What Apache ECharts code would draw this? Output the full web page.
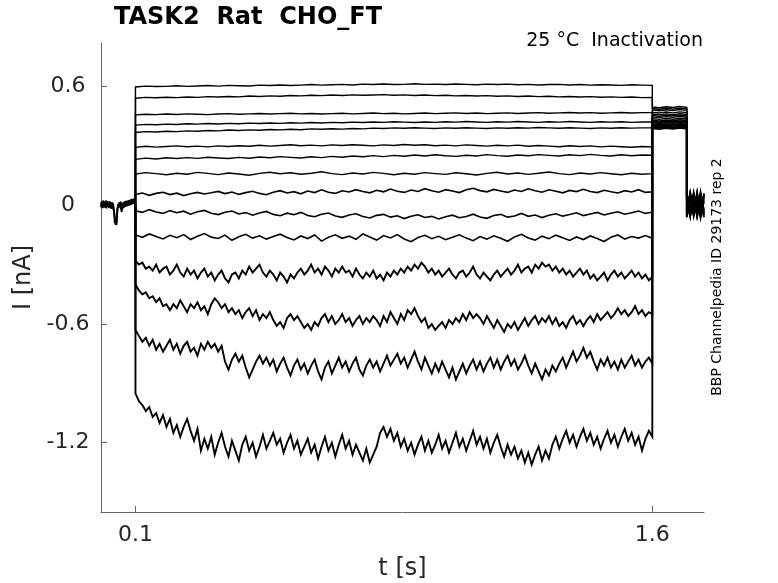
<!DOCTYPE html>
<html>
<head>
<meta charset="utf-8">
<script src="https://cdn.jsdelivr.net/npm/echarts@6/dist/echarts.min.js"></script>
<style>
  html, body { margin: 0; padding: 0; background: #fff; }
  #main { width: 778px; height: 583px; }
</style>
</head>
<body>
<div id="main"></div>
<script>
// holding current before the pulse (0 - 0.1 s, 2.5 ms apart)
var holdA = [0.014,-0.010,0.022,-0.006,0.018,-0.012,0.024,-0.004,0.016,-0.014,
  0.020,-0.008,0.014,-0.016,0.010,-0.022,-0.060,-0.098,-0.085,-0.030,
  0.006,-0.012,0.016,-0.010,-0.034,0.008,-0.014,0.018,-0.008,0.022,
  -0.006,0.020,0.000,0.024,0.004,0.028,0.006,0.030,0.010,0.028,0.006];
var holdB = [-0.010,0.020,-0.014,0.024,-0.010,0.016,-0.016,0.022,-0.008,0.018,
  -0.012,0.016,-0.018,0.014,-0.014,-0.030,-0.090,-0.070,-0.100,-0.015,
  -0.014,0.014,-0.008,0.018,-0.024,-0.012,0.016,-0.010,0.020,-0.004,
  0.022,0.002,0.026,-0.002,0.028,0.002,0.032,0.008,0.034,0.006,0.004];

// current during the pulse, 0.1 - 1.6 s, evenly spaced samples
var pulse01 = [0.598,0.602,0.600,0.601,0.604,0.601,0.603,0.605,0.602,0.606,
  0.604,0.603,0.607,0.605,0.608,0.605,0.607,0.610,0.607,0.609,
  0.611,0.608,0.612,0.610,0.613,0.610,0.611,0.614,0.611,0.612,
  0.610,0.613,0.611,0.609,0.612,0.610,0.612,0.609,0.611,0.608,
  0.610,0.611,0.608,0.610,0.607,0.609,0.608,0.606,0.609,0.607,0.606];
var pulse02 = [0.541,0.545,0.543,0.546,0.544,0.547,0.545,0.549,0.547,0.550,
  0.548,0.552,0.550,0.553,0.551,0.555,0.553,0.556,0.554,0.557,
  0.555,0.558,0.556,0.557,0.559,0.556,0.558,0.555,0.557,0.554,
  0.556,0.553,0.555,0.552,0.554,0.551,0.553,0.550,0.552,0.549,
  0.551,0.548,0.550,0.547,0.549,0.546,0.548,0.545,0.547,0.544,0.545];
var pulse03 = [0.457,0.460,0.458,0.461,0.459,0.462,0.460,0.458,0.461,0.463,
  0.460,0.462,0.464,0.461,0.463,0.465,0.462,0.464,0.461,0.463,
  0.465,0.462,0.464,0.466,0.463,0.465,0.462,0.464,0.466,0.463,
  0.465,0.467,0.464,0.466,0.463,0.465,0.467,0.464,0.466,0.468,
  0.465,0.467,0.469,0.466,0.468,0.465,0.467,0.469,0.466,0.468,0.469];
var pulse04 = [0.405,0.409,0.407,0.410,0.408,0.412,0.410,0.413,0.411,0.414,
  0.412,0.415,0.413,0.416,0.414,0.417,0.415,0.418,0.416,0.419,
  0.417,0.420,0.418,0.421,0.419,0.422,0.420,0.418,0.421,0.419,
  0.422,0.420,0.423,0.421,0.419,0.422,0.420,0.423,0.421,0.419,
  0.422,0.420,0.423,0.421,0.419,0.422,0.420,0.422,0.419,0.421,0.421];
var pulse05 = [0.368,0.372,0.370,0.374,0.372,0.376,0.374,0.378,0.376,0.380,
  0.378,0.381,0.379,0.383,0.381,0.384,0.382,0.386,0.384,0.387,
  0.385,0.388,0.386,0.390,0.388,0.391,0.389,0.392,0.390,0.388,
  0.391,0.389,0.392,0.390,0.388,0.391,0.389,0.392,0.390,0.393,
  0.391,0.389,0.392,0.390,0.388,0.391,0.389,0.392,0.390,0.391,0.391];
var pulse06 = [0.293,0.298,0.294,0.297,0.300,0.296,0.299,0.295,0.300,0.297,
  0.301,0.298,0.303,0.299,0.302,0.306,0.301,0.304,0.300,0.305,
  0.302,0.306,0.303,0.300,0.305,0.302,0.307,0.303,0.306,0.301,
  0.304,0.300,0.305,0.302,0.299,0.303,0.300,0.304,0.298,0.302,
  0.299,0.296,0.301,0.297,0.300,0.295,0.299,0.296,0.293,0.297,0.295];
var pulse07 = [0.232,0.238,0.234,0.240,0.236,0.241,0.237,0.243,0.239,0.236,
  0.242,0.238,0.244,0.240,0.246,0.242,0.239,0.245,0.241,0.247,
  0.243,0.249,0.245,0.251,0.246,0.252,0.248,0.254,0.249,0.255,
  0.250,0.247,0.253,0.249,0.256,0.251,0.248,0.254,0.250,0.256,
  0.252,0.249,0.255,0.251,0.257,0.252,0.249,0.255,0.250,0.254,0.253];
var pulse08 = [0.158,0.165,0.160,0.154,0.162,0.157,0.166,0.161,0.155,0.163,
  0.158,0.152,0.161,0.167,0.159,0.164,0.157,0.162,0.169,0.160,
  0.155,0.163,0.158,0.166,0.161,0.154,0.162,0.157,0.165,0.160,
  0.156,0.164,0.159,0.153,0.161,0.167,0.158,0.163,0.156,0.162,
  0.168,0.160,0.155,0.163,0.158,0.165,0.159,0.154,0.162,0.157,0.160];
var pulse09 = [0.055,0.062,0.050,0.060,0.066,0.054,0.061,0.049,0.058,0.065,
  0.057,0.063,0.070,0.059,0.067,0.055,0.064,0.071,0.060,0.053,
  0.066,0.074,0.062,0.069,0.058,0.072,0.064,0.078,0.066,0.060,
  0.073,0.067,0.079,0.070,0.063,0.076,0.068,0.082,0.071,0.065,
  0.077,0.070,0.084,0.073,0.066,0.079,0.072,0.064,0.078,0.086,
  0.074,0.068,0.080,0.072,0.065,0.077,0.070,0.083,0.073,0.066,
  0.078,0.071,0.063,0.075,0.069,0.081,0.070,0.064,0.076,0.068,
  0.062,0.074,0.067,0.079,0.065,0.068];
var pulse10 = [-0.028,-0.036,-0.022,-0.034,-0.041,-0.027,-0.038,-0.030,-0.045,-0.033,
  -0.026,-0.040,-0.047,-0.035,-0.029,-0.044,-0.037,-0.050,-0.039,-0.031,
  -0.046,-0.053,-0.040,-0.048,-0.036,-0.052,-0.058,-0.045,-0.039,-0.054,
  -0.061,-0.049,-0.043,-0.057,-0.064,-0.051,-0.046,-0.060,-0.053,-0.067,
  -0.055,-0.048,-0.062,-0.056,-0.069,-0.058,-0.050,-0.063,-0.057,-0.045,
  -0.059,-0.066,-0.052,-0.046,-0.060,-0.054,-0.041,-0.056,-0.049,-0.062,
  -0.050,-0.043,-0.055,-0.047,-0.038,-0.052,-0.044,-0.036,-0.049,-0.040,
  -0.033,-0.045,-0.038,-0.029,-0.041,-0.035];
var pulse11 = [-0.150,-0.162,-0.145,-0.158,-0.170,-0.152,-0.164,-0.148,-0.173,-0.157,
  -0.143,-0.161,-0.168,-0.151,-0.177,-0.159,-0.147,-0.166,-0.154,-0.171,
  -0.158,-0.146,-0.163,-0.175,-0.155,-0.168,-0.150,-0.181,-0.162,-0.149,
  -0.167,-0.156,-0.172,-0.145,-0.160,-0.176,-0.153,-0.165,-0.148,-0.170,
  -0.184,-0.163,-0.152,-0.169,-0.157,-0.174,-0.161,-0.149,-0.166,-0.179,
  -0.158,-0.171,-0.154,-0.167,-0.182,-0.160,-0.147,-0.165,-0.176,-0.156,
  -0.169,-0.151,-0.164,-0.178,-0.160,-0.173,-0.155,-0.168,-0.183,-0.162,
  -0.150,-0.171,-0.158,-0.166,-0.153,-0.167];
var pulse12 = [-0.28,-0.30,-0.29,-0.32,-0.31,-0.33,-0.30,-0.34,-0.32,-0.31,
  -0.35,-0.33,-0.30,-0.34,-0.36,-0.32,-0.35,-0.33,-0.37,-0.34,
  -0.32,-0.36,-0.34,-0.38,-0.35,-0.33,-0.37,-0.39,-0.35,-0.34,
  -0.37,-0.33,-0.35,-0.31,-0.34,-0.32,-0.30,-0.34,-0.36,-0.33,
  -0.35,-0.38,-0.34,-0.36,-0.39,-0.35,-0.37,-0.34,-0.32,-0.35,
  -0.33,-0.30,-0.34,-0.32,-0.35,-0.31,-0.33,-0.36,-0.32,-0.34,
  -0.31,-0.34,-0.33,-0.36,-0.32,-0.35,-0.37,-0.34,-0.36,-0.33,
  -0.37,-0.35,-0.38,-0.34,-0.36,-0.33,-0.35,-0.32,-0.34,-0.31,
  -0.33,-0.30,-0.32,-0.29,-0.31,-0.34,-0.32,-0.35,-0.33,-0.36,
  -0.34,-0.32,-0.35,-0.37,-0.34,-0.33,-0.36,-0.34,-0.31,-0.35,
  -0.37,-0.34,-0.36,-0.38,-0.35,-0.33,-0.36,-0.34,-0.32,-0.35,
  -0.33,-0.30,-0.34,-0.32,-0.31,-0.34,-0.30,-0.32,-0.29,-0.31,
  -0.30,-0.33,-0.31,-0.34,-0.32,-0.35,-0.33,-0.36,-0.34,-0.32,
  -0.35,-0.33,-0.37,-0.35,-0.38,-0.36,-0.34,-0.38,-0.35,-0.33,
  -0.36,-0.34,-0.37,-0.35,-0.33,-0.36,-0.34,-0.37,-0.35,-0.38,-0.36];
var pulse13 = [-0.40,-0.43,-0.45,-0.44,-0.47,-0.46,-0.49,-0.47,-0.51,-0.50,
  -0.53,-0.50,-0.52,-0.48,-0.51,-0.54,-0.50,-0.52,-0.49,-0.53,
  -0.51,-0.55,-0.50,-0.47,-0.49,-0.52,-0.50,-0.54,-0.52,-0.55,
  -0.53,-0.57,-0.54,-0.52,-0.56,-0.53,-0.58,-0.55,-0.57,-0.54,
  -0.58,-0.61,-0.59,-0.62,-0.57,-0.55,-0.58,-0.56,-0.59,-0.62,
  -0.60,-0.63,-0.59,-0.61,-0.57,-0.55,-0.59,-0.56,-0.60,-0.58,
  -0.55,-0.59,-0.57,-0.61,-0.58,-0.56,-0.60,-0.57,-0.59,-0.56,
  -0.58,-0.61,-0.56,-0.59,-0.54,-0.57,-0.60,-0.55,-0.58,-0.53,
  -0.55,-0.52,-0.56,-0.59,-0.57,-0.62,-0.60,-0.63,-0.61,-0.59,
  -0.62,-0.58,-0.60,-0.57,-0.59,-0.55,-0.58,-0.54,-0.57,-0.55,
  -0.57,-0.60,-0.56,-0.59,-0.62,-0.58,-0.61,-0.64,-0.60,-0.62,
  -0.59,-0.63,-0.60,-0.57,-0.61,-0.58,-0.56,-0.60,-0.57,-0.59,
  -0.56,-0.60,-0.57,-0.61,-0.59,-0.62,-0.58,-0.56,-0.60,-0.58,
  -0.61,-0.58,-0.56,-0.59,-0.55,-0.58,-0.56,-0.54,-0.57,-0.55,
  -0.52,-0.55,-0.53,-0.56,-0.54,-0.51,-0.55,-0.53,-0.56,-0.54,-0.55];
var pulse14 = [-0.63,-0.66,-0.69,-0.67,-0.71,-0.68,-0.73,-0.70,-0.74,-0.71,
  -0.68,-0.73,-0.70,-0.75,-0.71,-0.69,-0.74,-0.72,-0.76,-0.70,
  -0.73,-0.69,-0.72,-0.70,-0.74,-0.71,-0.79,-0.83,-0.78,-0.75,
  -0.79,-0.76,-0.82,-0.87,-0.83,-0.79,-0.76,-0.80,-0.77,-0.81,
  -0.78,-0.84,-0.80,-0.77,-0.82,-0.86,-0.81,-0.78,-0.83,-0.80,
  -0.85,-0.81,-0.78,-0.84,-0.88,-0.82,-0.79,-0.85,-0.81,-0.77,
  -0.82,-0.79,-0.84,-0.80,-0.77,-0.83,-0.86,-0.81,-0.78,-0.82,
  -0.79,-0.84,-0.80,-0.76,-0.81,-0.78,-0.75,-0.80,-0.77,-0.82,
  -0.78,-0.74,-0.79,-0.83,-0.77,-0.81,-0.85,-0.80,-0.84,-0.79,
  -0.83,-0.87,-0.82,-0.88,-0.84,-0.80,-0.85,-0.81,-0.78,-0.83,
  -0.79,-0.84,-0.80,-0.77,-0.82,-0.78,-0.83,-0.79,-0.76,-0.81,
  -0.78,-0.83,-0.80,-0.76,-0.81,-0.85,-0.80,-0.84,-0.88,-0.83,
  -0.86,-0.81,-0.84,-0.80,-0.77,-0.82,-0.78,-0.74,-0.79,-0.76,
  -0.72,-0.77,-0.74,-0.79,-0.83,-0.78,-0.81,-0.77,-0.82,-0.79,
  -0.83,-0.78,-0.82,-0.79,-0.76,-0.81,-0.78,-0.82,-0.79,-0.77,-0.80];
var pulse15 = [-0.95,-0.99,-1.01,-1.04,-1.02,-1.07,-1.05,-1.10,-1.06,-1.12,
  -1.08,-1.15,-1.11,-1.17,-1.12,-1.08,-1.14,-1.19,-1.13,-1.24,
  -1.18,-1.23,-1.17,-1.26,-1.20,-1.15,-1.22,-1.27,-1.19,-1.24,
  -1.29,-1.21,-1.17,-1.24,-1.20,-1.27,-1.22,-1.16,-1.23,-1.19,
  -1.15,-1.21,-1.18,-1.25,-1.20,-1.16,-1.23,-1.19,-1.26,-1.22,
  -1.18,-1.25,-1.21,-1.28,-1.22,-1.17,-1.24,-1.20,-1.27,-1.21,
  -1.16,-1.23,-1.19,-1.26,-1.21,-1.25,-1.29,-1.23,-1.30,-1.26,
  -1.22,-1.15,-1.12,-1.17,-1.13,-1.19,-1.15,-1.22,-1.18,-1.24,
  -1.20,-1.26,-1.21,-1.17,-1.24,-1.19,-1.25,-1.21,-1.16,-1.23,
  -1.19,-1.25,-1.20,-1.15,-1.22,-1.18,-1.24,-1.19,-1.14,-1.21,
  -1.17,-1.23,-1.18,-1.25,-1.20,-1.16,-1.22,-1.27,-1.21,-1.26,
  -1.22,-1.28,-1.24,-1.30,-1.25,-1.31,-1.26,-1.22,-1.29,-1.24,
  -1.28,-1.21,-1.17,-1.23,-1.18,-1.14,-1.20,-1.16,-1.22,-1.17,
  -1.13,-1.19,-1.15,-1.21,-1.17,-1.23,-1.18,-1.14,-1.20,-1.16,
  -1.22,-1.17,-1.13,-1.19,-1.15,-1.21,-1.17,-1.24,-1.18,-1.14,-1.17];

// tail step 1.6 - 1.7 s (20 ms apart), one row per sweep
var tailValues = [
  [0.497,0.493,0.498,0.494,0.499,0.495],
  [0.489,0.485,0.490,0.486,0.491,0.487],
  [0.482,0.478,0.483,0.479,0.484,0.480],
  [0.470,0.466,0.471,0.467,0.472,0.468],
  [0.461,0.457,0.462,0.458,0.463,0.459],
  [0.454,0.450,0.455,0.451,0.456,0.452],
  [0.447,0.443,0.448,0.444,0.449,0.445],
  [0.438,0.434,0.439,0.435,0.440,0.436],
  [0.430,0.426,0.431,0.427,0.432,0.428],
  [0.424,0.420,0.425,0.421,0.426,0.422],
  [0.418,0.414,0.419,0.415,0.420,0.416],
  [0.410,0.406,0.411,0.407,0.412,0.408],
  [0.403,0.399,0.404,0.400,0.405,0.401],
  [0.396,0.392,0.397,0.393,0.398,0.394],
  [0.389,0.385,0.390,0.386,0.391,0.387]
];
// back at holding, 1.7 - 1.75 s (10 ms apart)
var endValues = [
  [0.05,-0.04,0.06,-0.05,0.03,-0.06],
  [-0.05,0.06,-0.03,0.07,-0.06,0.04],
  [0.03,-0.06,0.05,-0.02,0.06,-0.04],
  [-0.06,0.04,-0.05,0.06,-0.03,0.05],
  [0.07,-0.03,0.04,-0.06,0.05,-0.02],
  [-0.02,0.05,-0.06,0.03,-0.05,0.06],
  [0.04,-0.05,0.02,-0.04,0.07,-0.05],
  [-0.04,0.07,-0.02,0.05,-0.06,0.03],
  [0.06,-0.02,0.05,-0.06,0.02,-0.05],
  [-0.03,0.05,-0.05,0.04,-0.02,0.06],
  [0.02,-0.06,0.06,-0.03,0.05,-0.04],
  [-0.06,0.03,-0.04,0.06,-0.05,0.02],
  [0.05,-0.04,0.03,-0.05,0.06,-0.03],
  [-0.04,0.06,-0.02,0.04,-0.06,0.05],
  [0.03,-0.05,0.06,-0.04,0.02,-0.06]
];

var xTicks = [0.1, 1.6];
var yTicks = [-1.2, -0.6, 0, 0.6];

var pulses = [pulse01, pulse02, pulse03, pulse04, pulse05, pulse06, pulse07, pulse08,
  pulse09, pulse10, pulse11, pulse12, pulse13, pulse14, pulse15];

var holdStep = 0.0025;
var pulseStart = 0.1, pulseEnd = 1.6, tailStep = 0.02, endStart = 1.7, endStep = 0.01;

function holdData(vals) {
  return vals.map(function (v, i) { return [i * holdStep, v]; });
}

function sweepData(k) {
  var pts = [[pulseStart, holdA[holdA.length - 1]]];
  var p = pulses[k];
  var dt = (pulseEnd - pulseStart) / (p.length - 1);
  p.forEach(function (v, i) { pts.push([pulseStart + i * dt, v]); });
  tailValues[k].forEach(function (v, i) { pts.push([pulseEnd + i * tailStep, v]); });
  endValues[k].forEach(function (v, i) { pts.push([endStart + i * endStep, v]); });
  return pts;
}

// noisier sweeps get a heavier pen so they read as the dense traces of the original
function penWidth(k) {
  if (k >= 11) return 1.9;
  if (k >= 8) return 1.6;
  return 1.4;
}

var series = [
  { type: 'line', data: holdData(holdA), showSymbol: false, lineStyle: { color: '#000', width: 1.8 } },
  { type: 'line', data: holdData(holdB), showSymbol: false, lineStyle: { color: '#000', width: 1.8 } }
];
for (var k = 0; k < pulses.length; k++) {
  series.push({ type: 'line', data: sweepData(k), showSymbol: false,
    lineStyle: { color: '#000', width: penWidth(k), join: 'miter' } });
}

var font = 'DejaVu Sans';
var chart = echarts.init(document.getElementById('main'));
chart.setOption({
  animation: false,
  backgroundColor: '#ffffff',
  title: {
    text: 'TASK2  Rat  CHO_FT',
    left: 109,
    top: 1,
    textStyle: { fontFamily: font, fontSize: 24, fontWeight: 'bold', color: '#000' }
  },
  grid: { left: 101, right: 74, top: 43, bottom: 71, containLabel: false, outerBoundsMode: 'none' },
  xAxis: {
    type: 'value',
    min: 0,
    max: 1.75,
    name: 't [s]',
    nameLocation: 'middle',
    nameGap: 45,
    nameTextStyle: { fontFamily: font, fontSize: 24, color: '#262626' },
    axisLine: { show: true, onZero: false, lineStyle: { color: '#666', width: 1 } },
    axisTick: { show: true, inside: true, length: 6, customValues: xTicks, lineStyle: { color: '#666' } },
    axisLabel: { customValues: xTicks, fontFamily: font, fontSize: 22, color: '#262626', margin: 12 },
    splitLine: { show: false }
  },
  yAxis: {
    type: 'value',
    min: -1.55,
    max: 0.82,
    name: 'I [nA]',
    nameLocation: 'middle',
    nameGap: 51,
    nameTextStyle: { fontFamily: font, fontSize: 24, color: '#262626' },
    axisLine: { show: true, onZero: false, lineStyle: { color: '#666', width: 1 } },
    axisTick: { show: true, inside: true, length: 6, customValues: yTicks, lineStyle: { color: '#666' } },
    axisLabel: { customValues: yTicks, fontFamily: font, fontSize: 22, color: '#262626', margin: 33, align: 'center' },
    splitLine: { show: false }
  },
  graphic: [
    {
      type: 'text',
      x: 703,
      y: 41,
      style: { text: '25 °C  Inactivation', align: 'right', verticalAlign: 'middle', font: '19px "DejaVu Sans"', fill: '#000' }
    },
    {
      type: 'text',
      x: 717,
      y: 277,
      rotation: Math.PI / 2,
      style: { text: 'BBP Channelpedia ID 29173 rep 2', align: 'center', verticalAlign: 'middle', font: '14px "DejaVu Sans"', fill: '#000' }
    }
  ],
  series: series
});
</script>
</body>
</html>
